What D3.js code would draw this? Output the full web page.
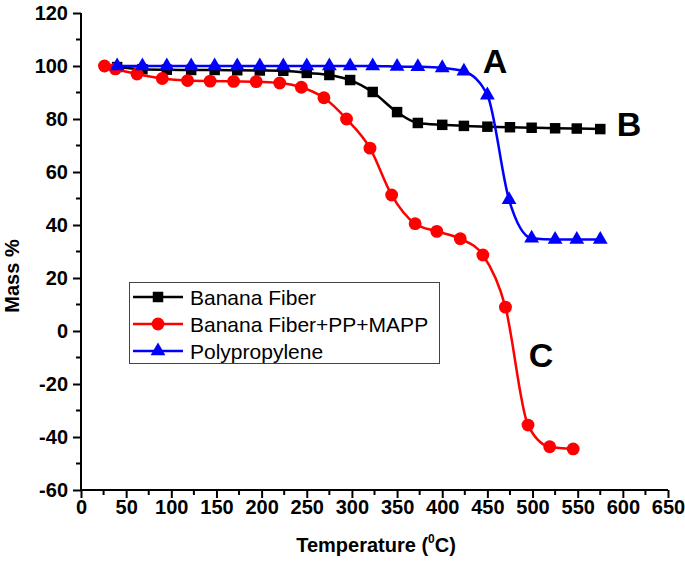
<!DOCTYPE html>
<html><head><meta charset="utf-8">
<script src="https://cdn.jsdelivr.net/npm/d3@7"></script>
<style>body{margin:0;background:#fff}svg{display:block}</style>
</head><body><svg id="c" width="685" height="561"></svg>
<script>
const xTicks = [0,50,100,150,200,250,300,350,400,450,500,550,600,650];
const yTicks = [-60,-40,-20,0,20,40,60,80,100,120];
const seriesNames = ["Banana Fiber","Banana Fiber+PP+MAPP","Polypropylene"];
const seriesColors = ["#000000","#ff0000","#0000ff"];
const bananaT = [40,68,95,122,148,173,198,224,250,275,298,323,350,373,400,424,450,475,499,525,549,575];
const bananaM = [99.6,98.8,98.6,98.5,98.5,98.4,98.3,98.2,97.4,96.6,94.7,90.2,82.6,78.5,77.8,77.4,77.1,76.9,76.7,76.5,76.4,76.2];
const compT = [26,38,62,90,118,143,169,194,220,244,269,294,320,344,370,394,420,445,470,495,519,545];
const compM = [100,98.9,97,95.3,94.5,94.3,94.2,94.1,93.6,92,88,80,69,51.3,40.5,37.6,34.8,28.7,9,-35.5,-43.7,-44.5];
const ppT = [40,68,95,122,148,173,198,224,250,275,298,323,350,373,400,424,450,474,499,525,549,575];
const ppM = [100,100,100,100,100,100,100,100,100,100,100,100,99.8,99.7,99.3,98,89,49.5,35,34.5,34.5,34.5];
const labels = [{t:"A",x:495,y:61},{t:"B",x:629,y:124},{t:"C",x:541,y:355}];

const svg = d3.select("#c");
const x = d3.scaleLinear().domain([0,650]).range([81,668]);
const y = d3.scaleLinear().domain([-60,120]).range([490,13]);
const font = "'Liberation Sans', Arial, sans-serif";

// minor ticks
const xMinor = d3.range(25,650,50);
const yMinor = d3.range(-50,120,20);
svg.append("g").selectAll("line").data(xMinor).join("line")
  .attr("x1",d=>x(d)).attr("x2",d=>x(d)).attr("y1",490).attr("y2",495)
  .attr("stroke","#000").attr("stroke-width",2);
svg.append("g").selectAll("line").data(yMinor).join("line")
  .attr("y1",d=>y(d)).attr("y2",d=>y(d)).attr("x1",81).attr("x2",76)
  .attr("stroke","#000").attr("stroke-width",2);

const fmt = d=>String(d);
const xAxis = svg.append("g").attr("transform","translate(0,490)")
  .call(d3.axisBottom(x).tickValues(xTicks).tickFormat(fmt).tickSize(8).tickPadding(2).tickSizeOuter(0));
const yAxis = svg.append("g").attr("transform","translate(81,0)")
  .call(d3.axisLeft(y).tickValues(yTicks).tickFormat(fmt).tickSize(8).tickPadding(5).tickSizeOuter(0));
[xAxis,yAxis].forEach(a=>{
  a.attr("font-family",font).attr("font-size",20);
  a.select(".domain").attr("stroke","#000").attr("stroke-width",2);
  a.selectAll(".tick line").attr("stroke","#000").attr("stroke-width",2);
  a.selectAll(".tick text").attr("fill","#000").attr("font-weight","bold");
});
xAxis.select(".domain").attr("d","M81,0H668");
yAxis.select(".domain").attr("d","M0,490V13");

// titles
svg.append("text").attr("transform","translate(19,276) rotate(-90)")
  .attr("text-anchor","middle").attr("font-family",font).attr("font-size",20)
  .attr("font-weight","bold").text("Mass %");
const xt = svg.append("text").attr("x",376).attr("y",552).attr("text-anchor","middle")
  .attr("font-family",font).attr("font-size",20).attr("font-weight","bold");
xt.append("tspan").text("Temperature (");
xt.append("tspan").attr("dy",-9).attr("font-size",12).text("0");
xt.append("tspan").attr("dy",9).text("C)");

const data = [
  {t:bananaT,m:bananaM,sym:d3.symbolSquare,size:110,curve:d3.curveMonotoneX},
  {t:compT,m:compM,sym:d3.symbolCircle,size:130,curve:d3.curveMonotoneX},
  {t:ppT,m:ppM,sym:d3.symbolTriangle,size:95,curve:d3.curveMonotoneX}
];
data.forEach((s,i)=>{
  const pts = s.t.map((t,j)=>[t,s.m[j]]);
  svg.append("path").datum(pts)
    .attr("d",d3.line().x(d=>x(d[0])).y(d=>y(d[1])).curve(s.curve))
    .attr("fill","none").attr("stroke",seriesColors[i]).attr("stroke-width",2.5);
  svg.append("g").selectAll("path").data(pts).join("path")
    .attr("transform",d=>`translate(${x(d[0])},${y(d[1])})`)
    .attr("d",d3.symbol().type(s.sym).size(s.size)).attr("fill",seriesColors[i]);
});

// labels
svg.selectAll(".lab").data(labels).join("text").attr("class","lab")
  .attr("x",d=>d.x).attr("y",d=>d.y+12).attr("text-anchor","middle")
  .attr("font-family",font).attr("font-size",34).attr("font-weight","bold")
  .text(d=>d.t);

// legend
const lg = svg.append("g");
lg.append("rect").attr("x",129.5).attr("y",282.5).attr("width",310).attr("height",81)
  .attr("fill","#fff").attr("stroke","#444").attr("stroke-width",1);
seriesNames.forEach((n,i)=>{
  const yy = 297 + i*27;
  lg.append("line").attr("x1",133).attr("x2",183).attr("y1",yy).attr("y2",yy)
    .attr("stroke",seriesColors[i]).attr("stroke-width",2.5);
  lg.append("path").attr("transform",`translate(158,${yy})`)
    .attr("d",d3.symbol().type(data[i].sym).size(data[i].size)).attr("fill",seriesColors[i]);
  lg.append("text").attr("x",190).attr("y",yy+7.5).attr("font-family",font)
    .attr("font-size",21).attr("fill","#000").text(n);
});
</script></body></html>
